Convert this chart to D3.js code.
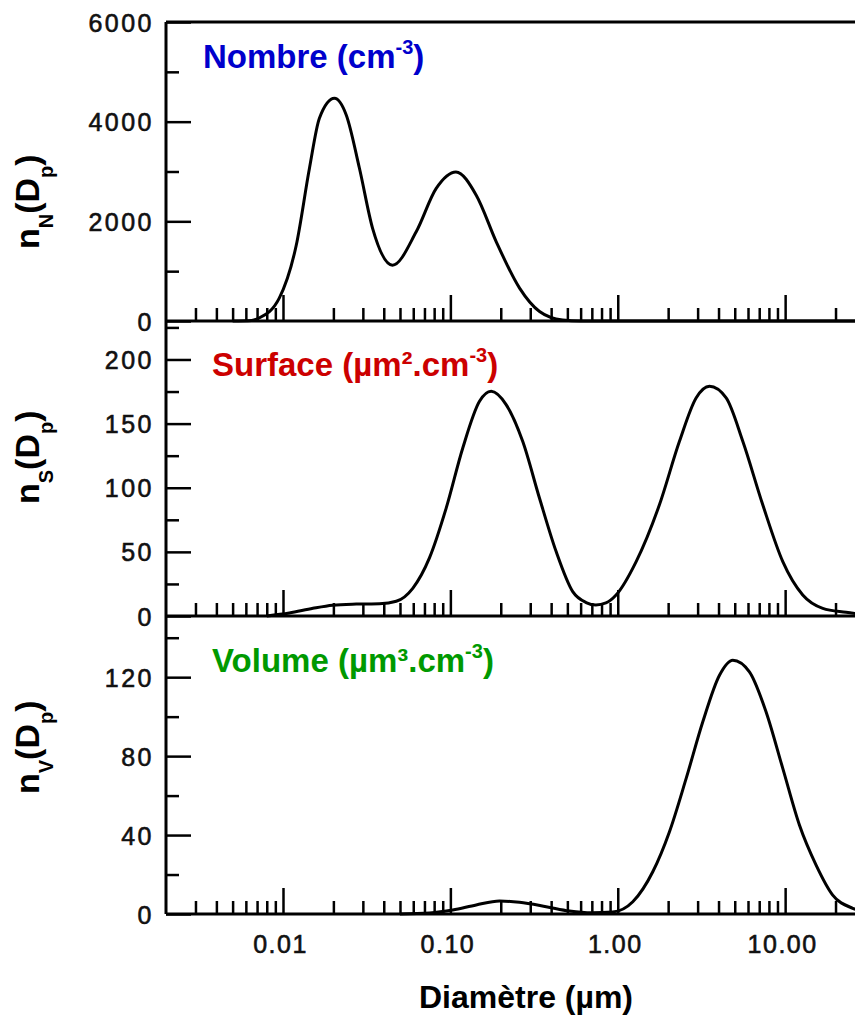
<!DOCTYPE html>
<html>
<head>
<meta charset="utf-8">
<script src="https://cdn.jsdelivr.net/npm/d3@7"></script>
<style>
  html, body { margin: 0; padding: 0; background: #fff; }
  svg { display: block; }
</style>
</head>
<body>
<svg id="chart" width="855" height="1016"></svg>
<script>
// ---------------- DATA ----------------
const xTickLabels = ["0.01", "0.10", "1.00", "10.00"];
const xTickValues = [0.01, 0.1, 1, 10];

// Number distribution n_N(Dp)
const numberD = [0.005, 0.0065, 0.0072, 0.0095, 0.012, 0.0144, 0.0165, 0.0203, 0.0239, 0.0286, 0.0343, 0.0451, 0.0625, 0.0823, 0.108, 0.143, 0.188, 0.259, 0.341, 0.468, 0.6, 1.0, 30];
const numberV = [0, 10, 60, 460, 1520, 3070, 4070, 4470, 4130, 3070, 1860, 1120, 1790, 2660, 2990, 2520, 1590, 660, 190, 20, 0, 0, 0];

// Surface distribution n_S(Dp)
const surfaceD = [0.008, 0.0109, 0.0151, 0.0198, 0.0274, 0.0377, 0.0475, 0.0596, 0.075, 0.0944, 0.1186, 0.1493, 0.1753, 0.2153, 0.2704, 0.3405, 0.4285, 0.5383, 0.6471, 0.74, 0.85, 0.9772, 1.288, 1.774, 2.337, 2.938, 3.532, 4.443, 5.584, 7.35, 9.683, 12.74, 16.78, 23.13, 30];
const surfaceV = [0, 2.3, 6, 8.4, 9.3, 9.6, 11.5, 21.6, 45.3, 84.1, 131, 167.4, 175.2, 164.8, 136.2, 92, 50.2, 19, 10.5, 8.6, 10.2, 16.4, 42.4, 86.7, 136.2, 170, 179.1, 170, 136.2, 86.7, 42.4, 16.4, 6, 2.9, 1];

// Volume distribution n_V(Dp)
const volumeD = [0.05, 0.075, 0.1033, 0.1426, 0.1965, 0.2587, 0.3733, 0.5144, 0.7, 0.934, 1.23, 1.619, 2.037, 2.563, 3.222, 4.053, 4.866, 6.119, 7.696, 9.68, 12.17, 15.31, 19.24, 25.34, 30];
const volumeV = [0, 0.5, 2.0, 4.6, 6.6, 5.9, 3.7, 1.5, 0.6, 1.0, 6.2, 21.4, 41.7, 68.7, 97.4, 121, 128.6, 122.7, 102.4, 73.8, 45.1, 24.8, 9.6, 2.9, 1];

const numberMajor = [0, 2000, 4000, 6000];
const numberMinor = [1000, 3000, 5000];
const surfaceMajor = [0, 50, 100, 150, 200];
const surfaceMinor = [25, 75, 125, 175, 225];
const volumeMajor = [0, 40, 80, 120];
const volumeMinor = [20, 60, 100, 140];

// ---------------- LAYOUT ----------------
const svg = d3.select("#chart");
svg.append("rect").attr("width", 855).attr("height", 1016).attr("fill", "#fff");

const left = 166, right = 865;
const x = d3.scaleLog().domain([0.002, 30]).range([left, right]);

const panels = [
  { D: numberD, V: numberV, top: 22, bottom: 321, ymax: 6000, major: numberMajor, minor: numberMinor,
    sub: "N", labelY: 249, title: "Nombre (cm", color: "#0000cc", titleX: 203, titleY: 68 },
  { D: surfaceD, V: surfaceV, top: 321, bottom: 616, ymax: 230, major: surfaceMajor, minor: surfaceMinor,
    sub: "S", labelY: 504, title: "Surface (µm².cm", color: "#cc0000", titleX: 212, titleY: 376 },
  { D: volumeD, V: volumeV, top: 616, bottom: 914, ymax: 151, major: volumeMajor, minor: volumeMinor,
    sub: "V", labelY: 794, title: "Volume (µm³.cm", color: "#009900", titleX: 212, titleY: 672 }
];

// log ticks: multiples 2..9 of each decade, decades separately
const decades = [0.01, 0.1, 1, 10];
const minors = [];
[-3, -2, -1, 0, 1].forEach(k => {
  for (let m = 2; m <= 9; m++) {
    const v = m * Math.pow(10, k);
    if (v > 0.0021 && v < 29) minors.push(v);
  }
});

const tickFont = "'Liberation Sans', Arial, Helvetica, sans-serif";

panels.forEach((p, i) => {
  const y = d3.scaleLinear().domain([0, p.ymax]).range([p.bottom, p.top]);
  const g = svg.append("g");

  // x minor ticks (pointing up)
  g.append("g").attr("transform", `translate(0,${p.bottom})`)
    .call(d3.axisBottom(x).tickValues(minors).tickSize(-13).tickSizeOuter(0).tickFormat(""))
    .call(a => a.select(".domain").remove())
    .call(a => a.selectAll(".tick line").attr("stroke", "#000").attr("stroke-width", 2.5));
  // x major ticks
  g.append("g").attr("transform", `translate(0,${p.bottom})`)
    .call(d3.axisBottom(x).tickValues(decades).tickSize(-26).tickSizeOuter(0).tickFormat(""))
    .call(a => a.select(".domain").remove())
    .call(a => a.selectAll(".tick line").attr("stroke", "#000").attr("stroke-width", 2.5));

  // y minor ticks
  g.append("g").attr("transform", `translate(${left},0)`)
    .call(d3.axisLeft(y).tickValues(p.minor).tickSize(-13).tickSizeOuter(0).tickFormat(""))
    .call(a => a.select(".domain").remove())
    .call(a => a.selectAll(".tick line").attr("stroke", "#000").attr("stroke-width", 2.5));
  // y major ticks with labels
  g.append("g").attr("transform", `translate(${left},0)`)
    .call(d3.axisLeft(y).tickValues(p.major).tickSize(-25).tickSizeOuter(0).tickPadding(12).tickFormat(d3.format("d")))
    .call(a => a.select(".domain").remove())
    .call(a => a.selectAll(".tick line").attr("stroke", "#000").attr("stroke-width", 2.5))
    .call(a => a.selectAll(".tick text")
      .attr("font-family", tickFont).attr("font-size", 25).attr("fill", "#111")
      .attr("stroke", "#111").attr("stroke-width", 0.6)
      .attr("letter-spacing", "2.5px").attr("dy", "0.36em"));

  // frame: bottom line and (for first panel) top line
  g.append("line").attr("x1", left).attr("x2", right).attr("y1", p.bottom).attr("y2", p.bottom)
    .attr("stroke", "#000").attr("stroke-width", 3);
  if (i === 0) {
    g.append("line").attr("x1", left).attr("x2", right).attr("y1", p.top).attr("y2", p.top)
      .attr("stroke", "#000").attr("stroke-width", 3);
  }

  // curve
  const pts = p.D.map((d, k) => [d, p.V[k]]);
  g.append("path").datum(pts)
    .attr("fill", "none").attr("stroke", "#000").attr("stroke-width", 3)
    .attr("stroke-linejoin", "round")
    .attr("d", d3.line().x(d => x(d[0])).y(d => y(d[1])).curve(d3.curveMonotoneX));

  // colored title
  const t = g.append("text").attr("x", p.titleX).attr("y", p.titleY)
    .attr("font-family", tickFont).attr("font-weight", "bold").attr("font-size", 33).attr("fill", p.color);
  t.append("tspan").text(p.title);
  t.append("tspan").attr("font-size", 20).attr("dy", -14).text("-3");
  t.append("tspan").attr("font-size", 33).attr("dy", 14).text(")");

  // y axis title n_X(D_p)
  const yl = g.append("text")
    .attr("transform", `translate(39,${p.labelY}) rotate(-90)`)
    .attr("font-family", tickFont).attr("font-weight", "bold").attr("font-size", 34).attr("fill", "#000");
  yl.append("tspan").text("n");
  yl.append("tspan").attr("font-size", 20).attr("dy", 14).text(p.sub);
  yl.append("tspan").attr("font-size", 34).attr("dy", -14).text("(D");
  yl.append("tspan").attr("font-size", 20).attr("dy", 14).text("p");
  yl.append("tspan").attr("font-size", 34).attr("dy", -14).text(")");
});

// left axis line across all panels
svg.append("line").attr("x1", left).attr("x2", left).attr("y1", 22).attr("y2", 914)
  .attr("stroke", "#000").attr("stroke-width", 3);

// x tick labels (bottom)
svg.append("g").attr("transform", `translate(-3,914)`)
  .call(d3.axisBottom(x).tickValues(xTickValues).tickSize(0).tickPadding(21)
    .tickFormat((d, k) => xTickLabels[k]))
  .call(a => a.select(".domain").remove())
  .call(a => a.selectAll(".tick text")
    .attr("font-family", tickFont).attr("font-size", 25).attr("fill", "#111")
    .attr("stroke", "#111").attr("stroke-width", 0.6).attr("letter-spacing", "1.5px"));

// x axis title
svg.append("text").attr("x", 526).attr("y", 1008).attr("text-anchor", "middle")
  .attr("font-family", tickFont).attr("font-weight", "bold").attr("font-size", 32).attr("fill", "#000")
  .text("Diamètre (µm)");
</script>
</body>
</html>
